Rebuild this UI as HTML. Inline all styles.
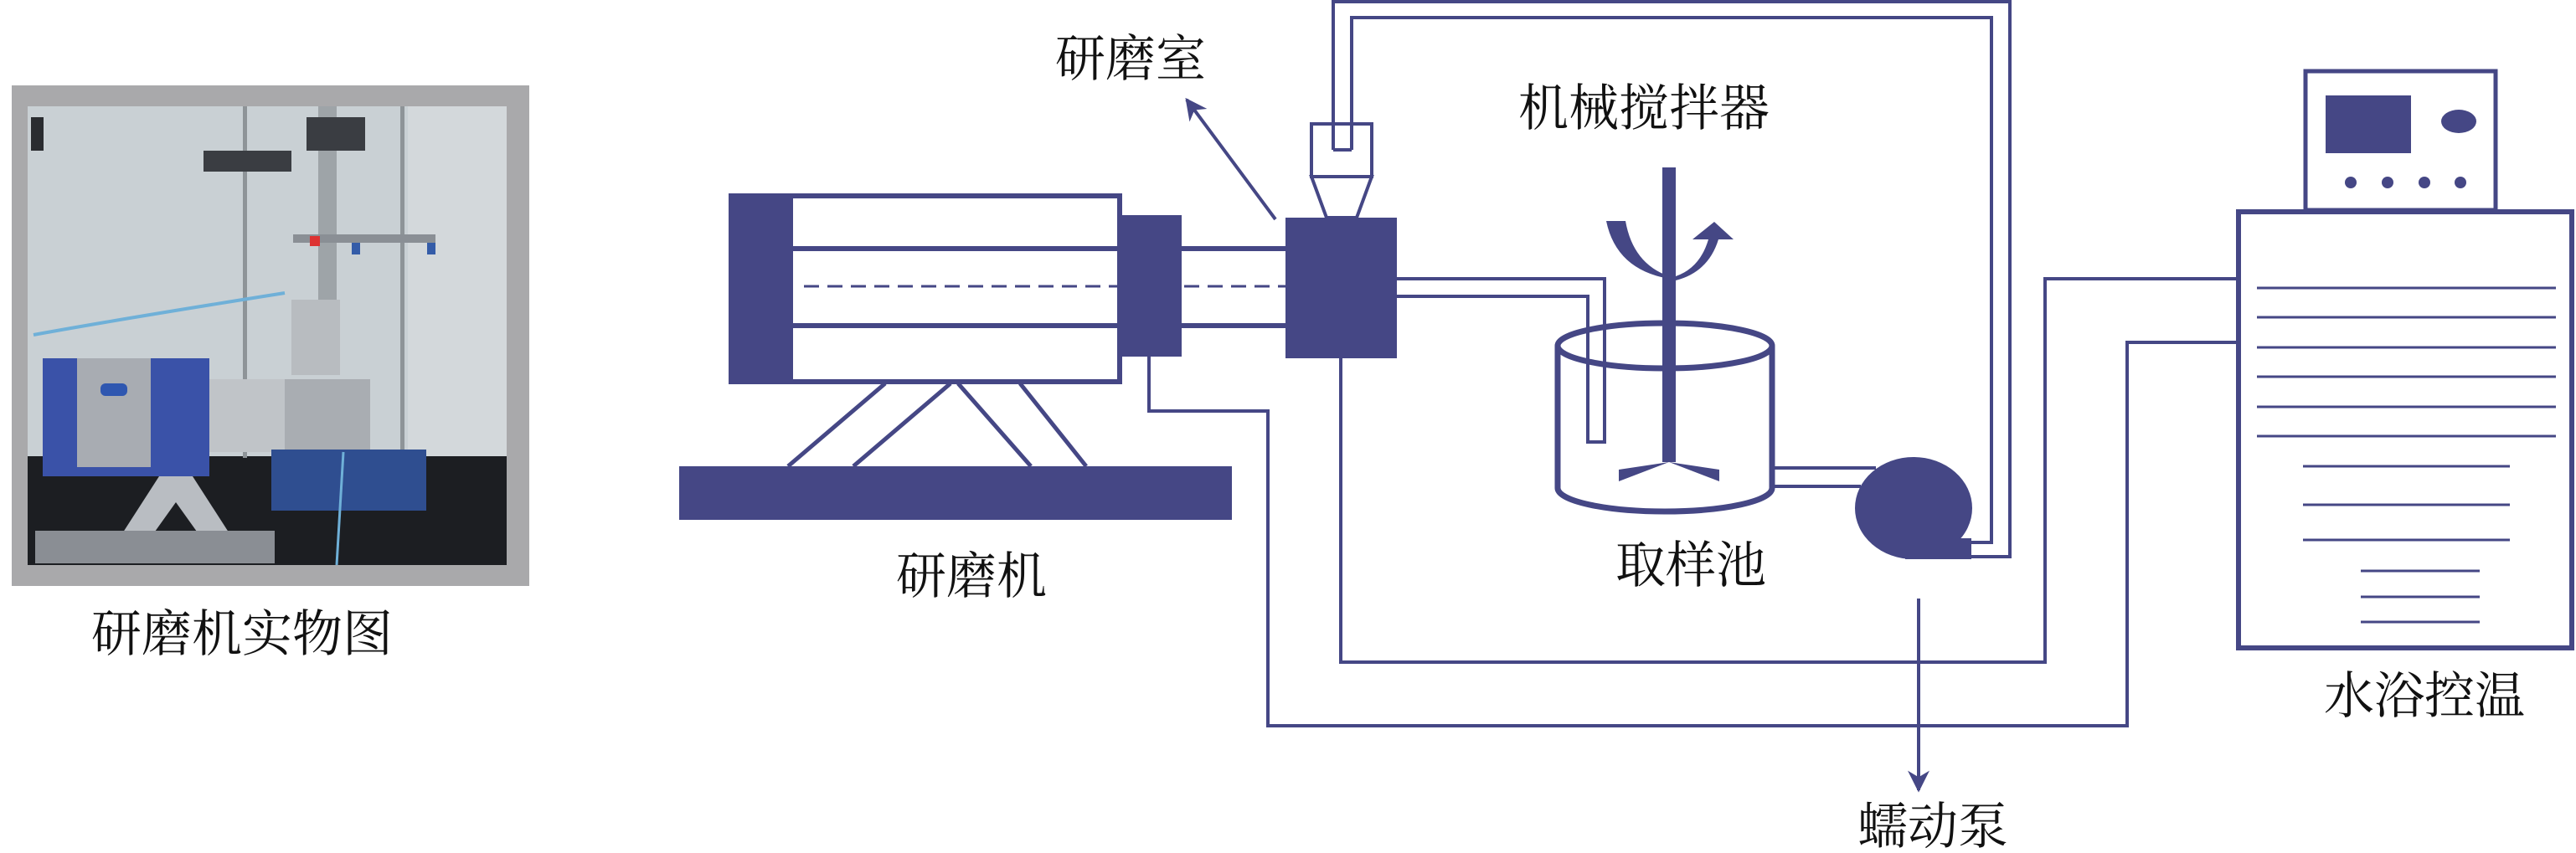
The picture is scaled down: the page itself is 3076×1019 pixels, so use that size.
<!DOCTYPE html>
<html><head><meta charset="utf-8"><style>
html,body{margin:0;padding:0;background:#fff;}
svg{display:block;}
text{font-family:"Liberation Serif","Noto Serif CJK SC","Noto Sans CJK SC",serif;fill:#111;font-size:60px;}
</style></head><body>
<svg width="3076" height="1019" viewBox="0 0 3076 1019" xmlns="http://www.w3.org/2000/svg">
<defs>
<marker id="ah" viewBox="0 0 10 10" refX="9" refY="5" markerWidth="32" markerHeight="26" orient="auto" markerUnits="userSpaceOnUse"><path d="M0,0 L10,5 L0,10 L3,5 Z" fill="#454785"/></marker>
</defs>
<!-- Photo -->
<rect x="14" y="102" width="618" height="598" fill="#a9a9ab"/>
<rect x="33" y="127" width="572" height="548" fill="#c9d0d4"/>
<rect x="33" y="545" width="572" height="130" fill="#1c1e22"/>
<rect x="487" y="127" width="118" height="418" fill="#d3d8db"/>
<rect x="290" y="127" width="5" height="420" fill="#8e9498"/>
<rect x="478" y="127" width="5" height="460" fill="#8e9498"/>
<rect x="380" y="127" width="22" height="240" fill="#9ea4a8"/>
<rect x="243" y="180" width="105" height="25" fill="#3a3d42"/>
<rect x="366" y="140" width="70" height="40" fill="#3a3d42"/>
<rect x="37" y="140" width="15" height="40" fill="#2a2c30"/>
<rect x="350" y="280" width="170" height="10" fill="#8a8f95"/>
<rect x="370" y="282" width="12" height="12" fill="#d33"/>
<rect x="420" y="290" width="10" height="14" fill="#345ca8"/>
<rect x="510" y="290" width="10" height="14" fill="#345ca8"/>
<rect x="348" y="358" width="58" height="90" fill="#b8bcc0"/>
<rect x="248" y="453" width="194" height="87" fill="#c0c4c8"/>
<rect x="340" y="453" width="102" height="87" fill="#a9adb2"/>
<rect x="51" y="428" width="199" height="141" fill="#3a52a8"/>
<rect x="92" y="428" width="88" height="130" fill="#a8acb2"/>
<rect x="120" y="458" width="32" height="15" rx="6" fill="#2f57b0"/>
<rect x="324" y="537" width="185" height="73" fill="#2f4e90"/>
<path d="M134,656 L190,569 L230,569 L286,656 L250,656 L210,600 L170,656 Z" fill="#b9bdc2"/>
<rect x="42" y="634" width="286" height="39" fill="#8a8e94"/>
<path d="M40,400 Q150,380 340,350" stroke="#6fb0d8" stroke-width="4" fill="none"/>
<path d="M410,540 L402,675" stroke="#6fb0d8" stroke-width="3" fill="none"/>
<text x="109" y="778">研磨机实物图</text>

<g stroke="#454785" fill="none" stroke-width="6">
<rect x="811" y="557" width="660" height="64" fill="#454785" stroke="none"/>
<line x1="1057" y1="458" x2="941" y2="557" stroke-width="5"/>
<line x1="1135" y1="458" x2="1019" y2="557" stroke-width="5"/>
<line x1="1144" y1="458" x2="1231" y2="557" stroke-width="5"/>
<line x1="1218" y1="458" x2="1297" y2="557" stroke-width="5"/>
<rect x="873" y="234" width="464" height="222"/>
<rect x="870" y="231" width="77" height="227" fill="#454785" stroke="none"/>
<line x1="947" y1="297" x2="1337" y2="297"/>
<line x1="947" y1="389" x2="1337" y2="389"/>
<line x1="960" y1="342" x2="1337" y2="342" stroke-width="3" stroke-dasharray="18,10"/>
<rect x="1336" y="257" width="75" height="169" fill="#454785" stroke="none"/>
<line x1="1411" y1="297" x2="1535" y2="297"/>
<line x1="1411" y1="389" x2="1535" y2="389"/>
<line x1="1414" y1="342" x2="1535" y2="342" stroke-width="3" stroke-dasharray="18,10"/>
<rect x="1535" y="260" width="133" height="168" fill="#454785" stroke="none"/>
<path d="M1566,211 L1638,211 L1620,260 L1584,260 Z" stroke-width="4"/>
<rect x="1566" y="148" width="72" height="63" stroke-width="4"/>
<path d="M1592,179 L1592,2 L2400,2 L2400,665 L2354,665" stroke-width="4"/>
<path d="M1614,179 L1614,21 L2378,21 L2378,648 L2354,648" stroke-width="4"/>
<line x1="1592" y1="179" x2="1614" y2="179" stroke-width="4"/>
<path d="M1668,333 L1916,333 L1916,528 L1896,528 L1896,354 L1668,354" stroke-width="4"/>
<path d="M1372,426 L1372,491 L1514,491 L1514,867 L2540,867 L2540,409 L2671,409" stroke-width="4"/>
<path d="M1601,428 L1601,791 L2442,791 L2442,333 L2671,333" stroke-width="4"/>
<line x1="1523" y1="262" x2="1417" y2="119" stroke-width="4" marker-end="url(#ah)"/>
<ellipse cx="1988" cy="413" rx="128" ry="27" stroke-width="7"/>
<path d="M1860,413 L1860,583 A128,28 0 0 0 2116,583 L2116,413" stroke-width="7"/>
<line x1="2116" y1="559" x2="2240" y2="559" stroke-width="4"/>
<line x1="2116" y1="581" x2="2222" y2="581" stroke-width="4"/>
</g>
<g fill="#454785">
<rect x="1985" y="200" width="16" height="352"/>
<path d="M1993,552 L1933,561 L1933,575 Z"/>
<path d="M1993,552 L2053,561 L2053,575 Z"/>
<path d="M1918,264 L1941,264 Q1950,315 1993,330 L1993,333 Q1930,322 1918,264 Z"/>
<path d="M2001,330 Q2030,320 2040,286 L2021,286 L2047,265 L2070,286 L2052,286 Q2040,325 2001,335 Z"/>
<ellipse cx="2285" cy="607" rx="70" ry="61"/>
<rect x="2275" y="643" width="79" height="25"/>
</g>
<line x1="2291" y1="715" x2="2291" y2="944" stroke="#454785" stroke-width="4" marker-end="url(#ah)"/>
<g stroke="#454785" fill="none">
<rect x="2753" y="85" width="227" height="166" stroke-width="5"/>
<rect x="2673" y="253" width="398" height="521" stroke-width="6"/>
<g stroke-width="3">
<line x1="2695" y1="344" x2="3052" y2="344"/><line x1="2695" y1="379" x2="3052" y2="379"/>
<line x1="2695" y1="415" x2="3052" y2="415"/><line x1="2695" y1="450" x2="3052" y2="450"/>
<line x1="2695" y1="486" x2="3052" y2="486"/><line x1="2695" y1="521" x2="3052" y2="521"/>
<line x1="2750" y1="557" x2="2997" y2="557"/><line x1="2750" y1="603" x2="2997" y2="603"/>
<line x1="2750" y1="645" x2="2997" y2="645"/>
<line x1="2819" y1="682" x2="2961" y2="682"/><line x1="2819" y1="713" x2="2961" y2="713"/>
<line x1="2819" y1="743" x2="2961" y2="743"/>
</g>
</g>
<g fill="#454785">
<rect x="2777" y="114" width="102" height="69"/>
<ellipse cx="2936" cy="145" rx="21" ry="14"/>
<circle cx="2807" cy="218" r="7"/><circle cx="2851" cy="218" r="7"/>
<circle cx="2895" cy="218" r="7"/><circle cx="2938" cy="218" r="7"/>
</g>
<text x="1260" y="91">研磨室</text>
<text x="1813" y="150">机械搅拌器</text>
<text x="1070" y="709">研磨机</text>
<text x="1929" y="696">取样池</text>
<text x="2218" y="1008">蠕动泵</text>
<text x="2775" y="852">水浴控温</text>
</svg>
</body></html>
